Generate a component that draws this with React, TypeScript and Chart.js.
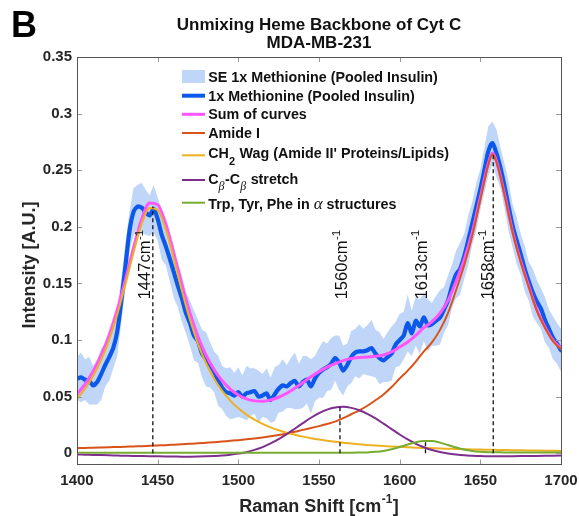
import React, { useEffect, useRef } from 'react';
import { Chart, registerables } from 'chart.js';

Chart.register(...registerables);

const FONT = "'Liberation Sans', Arial, Helvetica, sans-serif";
const SERIF = "'Liberation Serif', 'DejaVu Serif', serif";

// Raman shift grid for the fitted component curves [cm^-1]
const componentShift = [
  1400, 1405, 1410, 1415, 1420, 1425, 1430, 1435, 1440, 1445,
  1450, 1455, 1460, 1465, 1470, 1475, 1480, 1485, 1490, 1495,
  1500, 1505, 1510, 1515, 1520, 1525, 1530, 1535, 1540, 1545,
  1550, 1555, 1560, 1565, 1570, 1575, 1580, 1585, 1590, 1595,
  1600, 1605, 1610, 1615, 1620, 1625, 1630, 1635, 1640, 1645,
  1650, 1655, 1657.5, 1660, 1665, 1670, 1675, 1680, 1685, 1690,
  1695, 1700,
];

// CH2 Wag (Amide II' Proteins/Lipids)
const ch2Wag = [
  0.0481, 0.0570, 0.0683, 0.0826, 0.1006, 0.1229, 0.1491, 0.1772, 0.2022, 0.2166,
  0.2149, 0.1978, 0.1716, 0.1436, 0.1181, 0.0967, 0.0795, 0.0659, 0.0551, 0.0465,
  0.0397, 0.0342, 0.0297, 0.0260, 0.0229, 0.0203, 0.0181, 0.0163, 0.0147, 0.0133,
  0.0121, 0.0111, 0.0102, 0.0094, 0.0086, 0.0080, 0.0074, 0.0069, 0.0065, 0.0060,
  0.0057, 0.0053, 0.0050, 0.0047, 0.0045, 0.0042, 0.0040, 0.0038, 0.0036, 0.0034,
  0.0033, 0.0031, 0.0031, 0.0030, 0.0029, 0.0027, 0.0026, 0.0025, 0.0024, 0.0023,
  0.0022, 0.0021,
];

// Amide I
const amideI = [
  0.0045, 0.0047, 0.0050, 0.0052, 0.0054, 0.0056, 0.0058, 0.0061, 0.0063, 0.0066,
  0.0069, 0.0072, 0.0076, 0.0080, 0.0084, 0.0088, 0.0093, 0.0098, 0.0104, 0.0110,
  0.0116, 0.0123, 0.0131, 0.0140, 0.0150, 0.0162, 0.0175, 0.0190, 0.0207, 0.0223,
  0.0240, 0.0259, 0.0280, 0.0310, 0.0345, 0.0380, 0.0420, 0.0468, 0.0520, 0.0585,
  0.0660, 0.0730, 0.0810, 0.0900, 0.0980, 0.1090, 0.1240, 0.1442, 0.1660, 0.1920,
  0.2240, 0.2550, 0.2640, 0.2570, 0.2280, 0.1950, 0.1690, 0.1470, 0.1260, 0.1110,
  0.0990, 0.0920,
];

// C_beta - C_beta stretch
const cbStretch = [
  -0.0010, -0.0012, -0.0014, -0.0016, -0.0018, -0.0020, -0.0022, -0.0024, -0.0025, -0.0026,
  -0.0027, -0.0028, -0.0029, -0.0030, -0.0030, -0.0029, -0.0027, -0.0024, -0.0020, -0.0013,
  -0.0003, 0.0010, 0.0030, 0.0055, 0.0087, 0.0125, 0.0169, 0.0217, 0.0266, 0.0314,
  0.0355, 0.0386, 0.0405, 0.0410, 0.0401, 0.0380, 0.0348, 0.0308, 0.0262, 0.0214,
  0.0166, 0.0122, 0.0084, 0.0053, 0.0029, 0.0011, -0.0002, -0.0011, -0.0018, -0.0022,
  -0.0025, -0.0026, -0.0027, -0.0027, -0.0027, -0.0026, -0.0025, -0.0024, -0.0023, -0.0022,
  -0.0021, -0.0020,
];

// Trp, Tyr, Phe in alpha structures
const aromatic = [
  0.0005, 0.0005, 0.0005, 0.0005, 0.0005, 0.0005, 0.0005, 0.0005, 0.0005, 0.0005,
  0.0005, 0.0005, 0.0005, 0.0005, 0.0005, 0.0005, 0.0005, 0.0005, 0.0005, 0.0005,
  0.0005, 0.0005, 0.0005, 0.0005, 0.0005, 0.0005, 0.0005, 0.0005, 0.0005, 0.0005,
  0.0005, 0.0005, 0.0005, 0.0005, 0.0005, 0.0006, 0.0008, 0.0013, 0.0021, 0.0036,
  0.0055, 0.0078, 0.0098, 0.0109, 0.0108, 0.0094, 0.0073, 0.0051, 0.0033, 0.0021,
  0.0014, 0.0010, 0.0009, 0.0009, 0.0008, 0.0008, 0.0008, 0.0008, 0.0008, 0.0008,
  0.0008, 0.0008,
];

// Sum of curves
const sumCurves = [
  0.0521, 0.0610, 0.0724, 0.0867, 0.1047, 0.1270, 0.1532, 0.1814, 0.2065, 0.2211,
  0.2196, 0.2027, 0.1768, 0.1491, 0.1240, 0.1031, 0.0866, 0.0738, 0.0640, 0.0567,
  0.0515, 0.0480, 0.0463, 0.0460, 0.0471, 0.0495, 0.0530, 0.0575, 0.0625, 0.0675,
  0.0721, 0.0761, 0.0792, 0.0819, 0.0837, 0.0846, 0.0850, 0.0858, 0.0868, 0.0895,
  0.0938, 0.0983, 0.1042, 0.1109, 0.1162, 0.1237, 0.1351, 0.1520, 0.1711, 0.1953,
  0.2262, 0.2565, 0.2653, 0.2582, 0.2290, 0.1959, 0.1699, 0.1479, 0.1269, 0.1119,
  0.0999, 0.0929,
];

// Measured spectrum grid [cm^-1]
const dataShift = [
  1400, 1402.5, 1405, 1407.5, 1410, 1412.5, 1415, 1417.5, 1420, 1422.5,
  1425, 1427.5, 1430, 1432.5, 1435, 1437.5, 1440, 1442.5, 1445, 1447.5,
  1450, 1452.5, 1455, 1457.5, 1460, 1462.5, 1465, 1467.5, 1470, 1472.5,
  1475, 1477.5, 1480, 1482.5, 1485, 1487.5, 1490, 1492.5, 1495, 1497.5,
  1500, 1502.5, 1505, 1507.5, 1510, 1512.5, 1515, 1517.5, 1520, 1522.5,
  1525, 1527.5, 1530, 1532.5, 1535, 1537.5, 1540, 1542.5, 1545, 1547.5,
  1550, 1552.5, 1555, 1557.5, 1560, 1562.5, 1565, 1567.5, 1570, 1572.5,
  1575, 1577.5, 1580, 1582.5, 1585, 1587.5, 1590, 1592.5, 1595, 1597.5,
  1600, 1602.5, 1605, 1607.5, 1610, 1612.5, 1615, 1617.5, 1620, 1622.5,
  1625, 1627.5, 1630, 1632.5, 1635, 1637.5, 1640, 1642.5, 1645, 1647.5,
  1650, 1652.5, 1655, 1657.5, 1660, 1662.5, 1665, 1667.5, 1670, 1672.5,
  1675, 1677.5, 1680, 1682.5, 1685, 1687.5, 1690, 1692.5, 1695, 1697.5,
  1700,
];

// 1x Methionine (Pooled Insulin) mean spectrum
const methionineMean = [
  0.066, 0.067, 0.065, 0.064, 0.060, 0.063, 0.070, 0.078, 0.085, 0.093,
  0.108, 0.135, 0.165, 0.196, 0.213, 0.218, 0.217, 0.213, 0.210, 0.216,
  0.207, 0.193, 0.183, 0.172, 0.160, 0.148, 0.137, 0.124, 0.115, 0.104,
  0.099, 0.088, 0.083, 0.078, 0.072, 0.064, 0.058, 0.054, 0.053, 0.051,
  0.054, 0.050, 0.053, 0.054, 0.055, 0.050, 0.051, 0.053, 0.047, 0.052,
  0.057, 0.060, 0.059, 0.062, 0.064, 0.059, 0.063, 0.065, 0.059, 0.066,
  0.071, 0.074, 0.076, 0.079, 0.084, 0.080, 0.073, 0.078, 0.085, 0.089,
  0.090, 0.090, 0.091, 0.093, 0.088, 0.084, 0.082, 0.085, 0.088, 0.096,
  0.100, 0.104, 0.115, 0.106, 0.117, 0.112, 0.120, 0.113, 0.114, 0.117,
  0.120, 0.127, 0.135, 0.148, 0.158, 0.163, 0.174, 0.188, 0.203, 0.218,
  0.233, 0.250, 0.267, 0.274, 0.265, 0.252, 0.236, 0.218, 0.201, 0.188,
  0.176, 0.163, 0.152, 0.142, 0.134, 0.128, 0.118, 0.110, 0.102, 0.097,
  0.091,
];

// Standard error of the mean spectrum
const methionineSE = [
  0.019, 0.022, 0.018, 0.021, 0.017, 0.020, 0.023, 0.019, 0.021, 0.018,
  0.022, 0.019, 0.020, 0.017, 0.021, 0.019, 0.022, 0.020, 0.018, 0.021,
  0.019, 0.022, 0.017, 0.020, 0.023, 0.019, 0.021, 0.018, 0.020, 0.022,
  0.019, 0.021, 0.024, 0.020, 0.018, 0.022, 0.019, 0.021, 0.023, 0.020,
  0.022, 0.019, 0.024, 0.021, 0.020, 0.023, 0.019, 0.022, 0.020, 0.024,
  0.021, 0.023, 0.019, 0.022, 0.025, 0.020, 0.023, 0.021, 0.024, 0.020,
  0.022, 0.025, 0.021, 0.023, 0.020, 0.024, 0.022, 0.019, 0.023, 0.021,
  0.024, 0.020, 0.022, 0.025, 0.021, 0.023, 0.019, 0.022, 0.024, 0.020,
  0.023, 0.021, 0.025, 0.020, 0.022, 0.024, 0.021, 0.023, 0.019, 0.022,
  0.024, 0.020, 0.022, 0.019, 0.021, 0.023, 0.020, 0.022, 0.019, 0.021,
  0.018, 0.020, 0.022, 0.019, 0.021, 0.018, 0.020, 0.022, 0.019, 0.021,
  0.018, 0.020, 0.017, 0.021, 0.019, 0.018, 0.020, 0.017, 0.019, 0.018,
  0.019,
];

const xTicks = [1400, 1450, 1500, 1550, 1600, 1650, 1700];
const xTickLabels = ['1400', '1450', '1500', '1550', '1600', '1650', '1700'];
const yTicks = [0, 0.05, 0.1, 0.15, 0.2, 0.25, 0.3, 0.35];
const yTickLabels = ['0', '0.05', '0.1', '0.15', '0.2', '0.25', '0.3', '0.35'];

// Peak markers
const peakPositions = [1447, 1563, 1616, 1658];
const peakHeights = [0.218, 0.041, 0.011, 0.264];
const peakLabels = ['1447', '1560', '1613', '1658'];

// annotation placement (data units)
const peakLabelX = [1445.3, 1567.4, 1616.8, 1658.0];
const peakLabelY = 0.136;

const COLORS = {
  band: 'rgb(192, 214, 248)',
  blue: 'rgb(12, 88, 235)',
  pink: 'rgb(255, 85, 255)',
  red: 'rgb(217, 83, 25)',
  orange: 'rgb(237, 177, 32)',
  purple: 'rgb(126, 47, 142)',
  green: 'rgb(119, 172, 48)',
};

type Run = { t: string; f: string; dy?: number; dx?: number };

function runsWidth(ctx: CanvasRenderingContext2D, runs: Run[]) {
  let w = 0;
  runs.forEach((r) => {
    ctx.font = r.f;
    w += ctx.measureText(r.t).width + (r.dx || 0);
  });
  return w;
}

function drawRuns(ctx: CanvasRenderingContext2D, runs: Run[], x: number, y: number) {
  let cx = x;
  runs.forEach((r) => {
    ctx.font = r.f;
    ctx.fillText(r.t, cx, y + (r.dy || 0));
    cx += ctx.measureText(r.t).width + (r.dx || 0);
  });
}

const B14 = `bold 14.3px ${FONT}`;
const B11 = `bold 11px ${FONT}`;

const decorPlugin = {
  id: 'decor',
  beforeDraw(chart: any) {
    const c = chart.ctx;
    c.save();
    c.fillStyle = '#ffffff';
    c.fillRect(0, 0, chart.width, chart.height);
    c.restore();
  },
  afterDraw(chart: any) {
    const ctx: CanvasRenderingContext2D = chart.ctx;
    const a = chart.chartArea;
    const xs = chart.scales.x;
    const ys = chart.scales.y;
    ctx.save();

    // inward tick marks
    ctx.strokeStyle = '#9a9a9a';
    ctx.lineWidth = 1;
    ctx.beginPath();
    xTicks.forEach((v) => {
      const p = Math.round(xs.getPixelForValue(v)) + 0.5;
      ctx.moveTo(p, a.bottom);
      ctx.lineTo(p, a.bottom - 5);
      ctx.moveTo(p, a.top);
      ctx.lineTo(p, a.top + 5);
    });
    yTicks.forEach((v) => {
      const p = Math.round(ys.getPixelForValue(v)) + 0.5;
      ctx.moveTo(a.left, p);
      ctx.lineTo(a.left + 5, p);
      ctx.moveTo(a.right, p);
      ctx.lineTo(a.right - 5, p);
    });
    ctx.stroke();

    // axes box
    ctx.strokeStyle = '#555555';
    const l = Math.round(a.left) + 0.5;
    const t = Math.round(a.top) + 0.5;
    const r = Math.round(a.right) + 0.5;
    const b = Math.round(a.bottom) - 0.5;
    ctx.strokeRect(l, t, r - l, b - t);

    // dashed peak markers
    ctx.strokeStyle = '#111111';
    ctx.lineWidth = 1.3;
    ctx.setLineDash([4, 3]);
    peakPositions.forEach((v, i) => {
      const p = xs.getPixelForValue(v);
      ctx.beginPath();
      ctx.moveTo(p, ys.getPixelForValue(0));
      ctx.lineTo(p, ys.getPixelForValue(peakHeights[i]));
      ctx.stroke();
    });
    ctx.setLineDash([]);

    // peak labels (rotated)
    ctx.fillStyle = '#111111';
    peakLabels.forEach((txt, i) => {
      ctx.save();
      ctx.translate(xs.getPixelForValue(peakLabelX[i]), ys.getPixelForValue(peakLabelY));
      ctx.rotate(-Math.PI / 2);
      ctx.textAlign = 'left';
      ctx.textBaseline = 'alphabetic';
      drawRuns(ctx, [
        { t: txt + 'cm', f: `16.5px ${FONT}`, dx: 0.5 },
        { t: '-1', f: `11.5px ${FONT}`, dy: -7.5 },
      ], 0, 0);
      ctx.restore();
    });

    // legend
    ctx.textAlign = 'left';
    ctx.textBaseline = 'alphabetic';
    ctx.fillStyle = COLORS.band;
    ctx.fillRect(182, 70, 23, 13);
    const lx0 = 182;
    const lx1 = 205;
    const legendLines: [string, number, number][] = [
      [COLORS.blue, 4, 95.7],
      [COLORS.pink, 3, 114.3],
      [COLORS.red, 2, 133],
      [COLORS.orange, 2, 155.3],
      [COLORS.purple, 2, 180],
      [COLORS.green, 2, 202.7],
    ];
    legendLines.forEach(([c, w, y]) => {
      ctx.strokeStyle = c;
      ctx.lineWidth = w;
      ctx.beginPath();
      ctx.moveTo(lx0, y);
      ctx.lineTo(lx1, y);
      ctx.stroke();
    });
    ctx.fillStyle = '#111111';
    const tx = 208.3;
    drawRuns(ctx, [{ t: 'SE 1x Methionine (Pooled Insulin)', f: B14 }], tx, 81.7);
    drawRuns(ctx, [{ t: '1x Methionine (Pooled Insulin)', f: B14 }], tx, 100.7);
    drawRuns(ctx, [{ t: 'Sum of curves', f: B14 }], tx, 119.3);
    drawRuns(ctx, [{ t: 'Amide I', f: B14 }], tx, 138.3);
    drawRuns(ctx, [
      { t: 'CH', f: B14 },
      { t: '2', f: B11, dy: 6.5, dx: 0.5 },
      { t: " Wag (Amide II' Proteins/Lipids)", f: B14 },
    ], tx, 158.3);
    drawRuns(ctx, [
      { t: 'C', f: B14 },
      { t: '\u03B2', f: `italic 12px ${SERIF}`, dy: 6, dx: 0.5 },
      { t: '-C', f: B14 },
      { t: '\u03B2', f: `italic 12px ${SERIF}`, dy: 6, dx: 0.5 },
      { t: ' stretch', f: B14 },
    ], tx, 184);
    drawRuns(ctx, [
      { t: 'Trp, Tyr, Phe in ', f: B14 },
      { t: '\u03B1', f: `italic 17px ${SERIF}` },
      { t: ' structures', f: B14 },
    ], tx, 209.3);

    // panel letter
    ctx.font = `bold 36px ${FONT}`;
    ctx.fillStyle = '#000000';
    ctx.fillText('B', 11, 37);

    // title
    const cx = (a.left + a.right) / 2;
    ctx.textAlign = 'center';
    ctx.font = `bold 17px ${FONT}`;
    ctx.fillStyle = '#111111';
    ctx.fillText('Unmixing Heme Backbone of Cyt C', cx, 30);
    ctx.fillText('MDA-MB-231', cx, 48);

    // axis titles
    ctx.textAlign = 'left';
    ctx.fillStyle = '#262626';
    const xTitle: Run[] = [
      { t: 'Raman Shift [cm', f: `bold 18px ${FONT}`, dx: 0.5 },
      { t: '-1', f: `bold 12px ${FONT}`, dy: -9, dx: 0.5 },
      { t: ']', f: `bold 18px ${FONT}` },
    ];
    const xw = runsWidth(ctx, xTitle);
    drawRuns(ctx, xTitle, cx - xw / 2, 512);

    ctx.save();
    ctx.translate(34.5, 265);
    ctx.rotate(-Math.PI / 2);
    ctx.textAlign = 'center';
    ctx.font = `bold 18px ${FONT}`;
    ctx.fillText('Intensity [A.U.]', 0, 0);
    ctx.restore();

    ctx.restore();
  },
};

export default function App() {
  const ref = useRef<HTMLCanvasElement>(null);

  useEffect(() => {
    const canvas = ref.current;
    if (!canvas) return;
    const pts = (xs: number[], ys: number[]) => xs.map((x, i) => ({ x, y: ys[i] }));
    const seLower = methionineMean.map((m, i) => m - methionineSE[i]);
    const seUpper = methionineMean.map((m, i) => m + methionineSE[i]);
    const tickFont = { family: FONT, size: 15, weight: 'bold' as const };

    const lineBase = {
      pointRadius: 0,
      pointHoverRadius: 0,
      fill: false,
      borderJoinStyle: 'round' as const,
      borderCapStyle: 'round' as const,
    };

    const chart = new Chart(canvas, {
      type: 'line',
      data: {
        datasets: [
          {
            ...lineBase,
            label: 'SE lower',
            data: pts(dataShift, seLower),
            borderWidth: 0,
            borderColor: 'rgba(0,0,0,0)',
            order: 8,
          },
          {
            ...lineBase,
            label: 'SE 1x Methionine (Pooled Insulin)',
            data: pts(dataShift, seUpper),
            borderWidth: 0,
            borderColor: 'rgba(0,0,0,0)',
            backgroundColor: COLORS.band,
            fill: '-1',
            order: 7,
          },
          {
            ...lineBase,
            label: '1x Methionine (Pooled Insulin)',
            data: pts(dataShift, methionineMean),
            borderColor: COLORS.blue,
            borderWidth: 4.2,
            tension: 0.25,
            order: 6,
          },
          {
            ...lineBase,
            label: 'Sum of curves',
            data: pts(componentShift, sumCurves),
            borderColor: COLORS.pink,
            borderWidth: 3,
            cubicInterpolationMode: 'monotone' as const,
            order: 5,
          },
          {
            ...lineBase,
            label: 'Amide I',
            data: pts(componentShift, amideI),
            borderColor: COLORS.red,
            borderWidth: 2,
            cubicInterpolationMode: 'monotone' as const,
            order: 4,
          },
          {
            ...lineBase,
            label: "CH2 Wag (Amide II' Proteins/Lipids)",
            data: pts(componentShift, ch2Wag),
            borderColor: COLORS.orange,
            borderWidth: 2,
            cubicInterpolationMode: 'monotone' as const,
            order: 3,
          },
          {
            ...lineBase,
            label: 'Cb-Cb stretch',
            data: pts(componentShift, cbStretch),
            borderColor: COLORS.purple,
            borderWidth: 2,
            cubicInterpolationMode: 'monotone' as const,
            order: 2,
          },
          {
            ...lineBase,
            label: 'Trp, Tyr, Phe in alpha structures',
            data: pts(componentShift, aromatic),
            borderColor: COLORS.green,
            borderWidth: 2,
            cubicInterpolationMode: 'monotone' as const,
            order: 1,
          },
        ],
      },
      options: {
        animation: false,
        responsive: false,
        maintainAspectRatio: false,
        devicePixelRatio: 1,
        events: [],
        layout: { padding: { left: 0, right: 18, top: 57, bottom: 0 } },
        plugins: {
          legend: { display: false },
          title: { display: false },
          tooltip: { enabled: false },
        },
        scales: {
          x: {
            type: 'linear',
            min: 1400,
            max: 1700,
            grid: { display: false, drawTicks: false },
            border: { display: false },
            afterBuildTicks: (scale: any) => {
              scale.ticks = xTicks.map((value) => ({ value }));
            },
            afterFit: (scale: any) => {
              scale.height = 51.5;
              scale.paddingLeft = 0;
              scale.paddingRight = 0;
            },
            ticks: {
              autoSkip: false,
              maxRotation: 0,
              padding: 7.5,
              color: '#262626',
              font: tickFont,
              callback: (_v: any, i: number) => xTickLabels[i],
            },
          },
          y: {
            type: 'linear',
            min: -0.0099,
            max: 0.35,
            grid: { display: false, drawTicks: false },
            border: { display: false },
            afterBuildTicks: (scale: any) => {
              scale.ticks = yTicks.map((value) => ({ value }));
            },
            afterFit: (scale: any) => {
              scale.width = 77;
              scale.paddingTop = 0;
              scale.paddingBottom = 0;
            },
            ticks: {
              padding: 5,
              color: '#262626',
              font: tickFont,
              callback: (_v: any, i: number) => yTickLabels[i],
            },
          },
        },
      },
      plugins: [decorPlugin],
    } as any);

    return () => chart.destroy();
  }, []);

  return (
    <div style={{ position: 'fixed', left: 0, top: 0, width: 579, height: 516, background: '#ffffff' }}>
      <canvas ref={ref} width={579} height={516} style={{ display: 'block', width: 579, height: 516 }} />
    </div>
  );
}
